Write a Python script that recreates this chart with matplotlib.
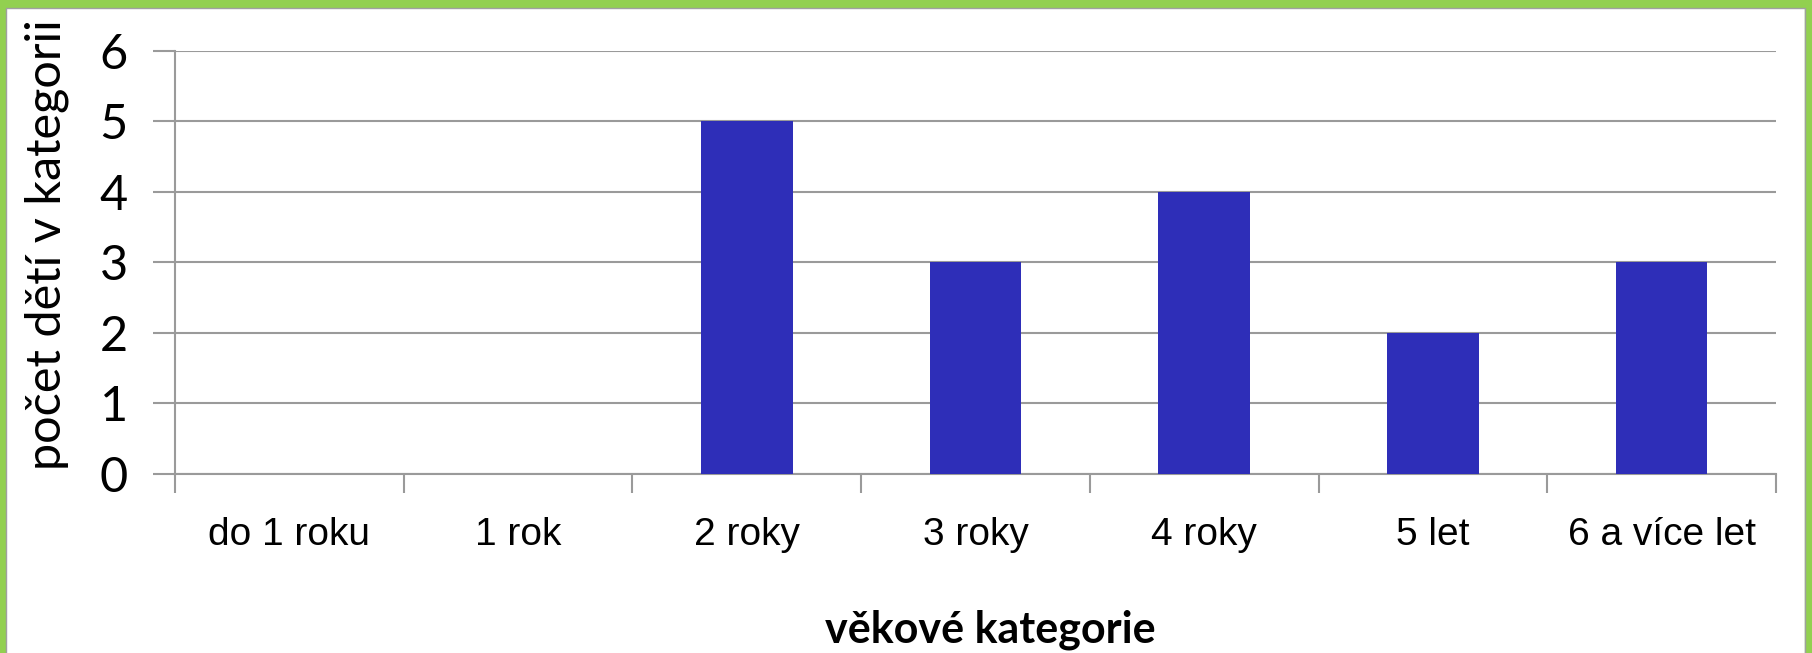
import matplotlib
matplotlib.use("Agg")
import matplotlib.pyplot as plt
import numpy as np
from matplotlib.patches import Rectangle
from matplotlib.ticker import FixedLocator

categories = ["do 1 roku", "1 rok", "2 roky", "3 roky", "4 roky", "5 let", "6 a více let"]
counts = [0, 0, 5, 3, 4, 2, 3]
y_ticks = [0, 1, 2, 3, 4, 5, 6]

BAR = "#2E2EB8"
GRID = "#9A9A9A"
GREEN = "#92D050"
CAL = ["Lato", "DejaVu Sans"]
ARIAL = ["Liberation Sans Narrow", "Liberation Sans"]

W, H = 1812, 653
fig = plt.figure(figsize=(W / 100, H / 100), dpi=100)

# plot area in pixels
left, right, top, bottom = 175, 1776, 50.7, 474
ax = fig.add_axes([left / W, (H - bottom) / H, (right - left) / W, (bottom - top) / H])

x = np.arange(len(categories))
ax.bar(x, counts, width=0.4, color=BAR, zorder=3)

ax.set_xlim(-0.5, len(categories) - 0.5)
ax.set_ylim(0, 6)
ax.set_yticks(y_ticks)
ax.set_yticklabels([str(v) for v in y_ticks], fontsize=35, family=CAL)
ax.set_xticks(x)
ax.set_xticklabels(categories, fontsize=28, family=ARIAL)
ax.xaxis.set_minor_locator(FixedLocator(np.arange(len(categories) + 1) - 0.5))
ax.tick_params(axis="x", which="major", length=0, pad=31)
ax.tick_params(axis="x", which="minor", length=14, width=1.5, color=GRID, direction="out")
ax.tick_params(axis="y", length=16, width=1.5, color=GRID, direction="out", pad=18)

ax.grid(axis="y", color=GRID, linewidth=1.5, zorder=0)
for s in ["top", "right"]:
    ax.spines[s].set_visible(False)
for s in ["left", "bottom"]:
    ax.spines[s].set_color(GRID)
    ax.spines[s].set_linewidth(1.5)

fig.text(47 / W, 1 - 245 / H, "počet dětí v kategorii", rotation=90, ha="center", va="center",
         fontsize=35, family=CAL)
fig.text(990 / W, 1 - 630 / H, "věkové kategorie", ha="center", va="center",
         fontsize=31, fontweight="bold", family=CAL)

# green frame
fig.patches.append(Rectangle((0, 1 - 7 / H), 1, 7 / H, transform=fig.transFigure, color=GREEN))
fig.patches.append(Rectangle((0, 0), 5 / W, 1, transform=fig.transFigure, color=GREEN))
fig.patches.append(Rectangle((1 - 7 / W, 0), 7 / W, 1, transform=fig.transFigure, color=GREEN))
fig.add_artist(plt.Line2D([5.5 / W, 5.5 / W, 1 - 7.5 / W, 1 - 7.5 / W],
                          [0, 1 - 7.5 / H, 1 - 7.5 / H, 0],
                          transform=fig.transFigure, color="#A0A0A0", linewidth=1))

fig.savefig("out.png", dpi=100)
